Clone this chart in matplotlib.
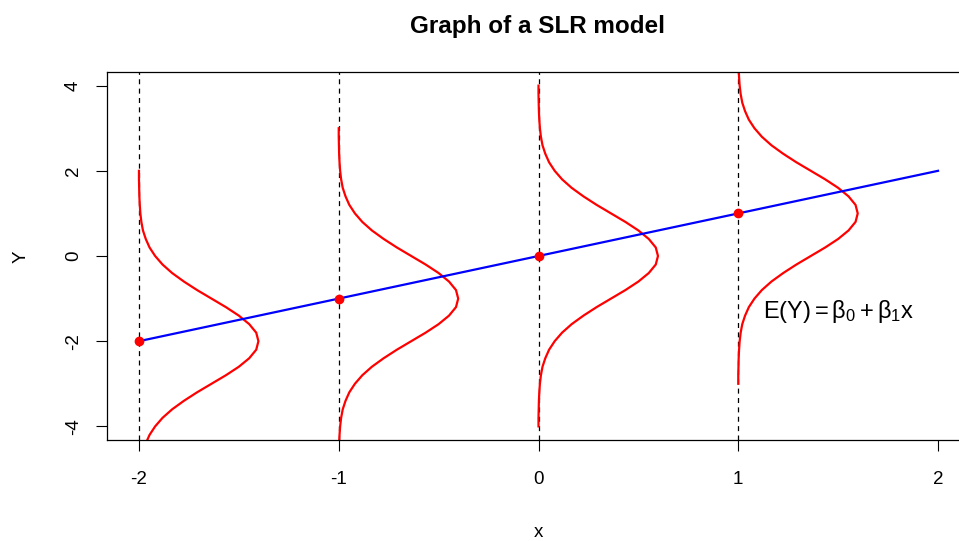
import numpy as np
import matplotlib.pyplot as plt

plt.rcParams['font.family'] = ['Liberation Sans', 'DejaVu Sans']
plt.rcParams['mathtext.fontset'] = 'custom'
plt.rcParams['mathtext.rm'] = 'Liberation Sans'
plt.rcParams['mathtext.it'] = 'Liberation Sans'
plt.rcParams['axes.unicode_minus'] = False

# x positions where the error distributions are drawn, and E(Y) there
x_means = [-2, -1, 0, 1]
y_means = [-2, -1, 0, 1]

# regression line end points
line_x = [-2, 2]
line_y = [-2, 2]

# horizontal width of the density curves
# (distance from the mean in y, 0 .. 4 in steps of 0.2)
half_d = [0.0, 0.2, 0.4, 0.6, 0.8, 1.0, 1.2, 1.4, 1.6, 1.8, 2.0,
          2.2, 2.4, 2.6, 2.8, 3.0, 3.2, 3.4, 3.6, 3.8, 4.0]
half_w = [0.598, 0.587, 0.552, 0.500, 0.435, 0.363, 0.291, 0.225, 0.166, 0.118, 0.081,
          0.053, 0.034, 0.020, 0.012, 0.007, 0.004, 0.002, 0.001, 0.000, 0.000]

d = np.concatenate([-np.array(half_d[::-1]), np.array(half_d[1:])])
w = np.concatenate([np.array(half_w[::-1]), np.array(half_w[1:])])

fig = plt.figure(figsize=(9.59, 5.41), dpi=100)
ax = fig.add_axes([107 / 959, 1 - 440 / 541, (970 - 107) / 959, (440 - 72) / 541])

for xm, ym in zip(x_means, y_means):
    ax.axvline(xm, color='black', lw=0.9, linestyle=(0, (4, 3.5)), zorder=1)
    ax.plot(xm + w, ym + d, color='red', lw=1.6, zorder=2)

ax.plot(line_x, line_y, color='blue', lw=1.6, zorder=3)
ax.plot(x_means, y_means, 'o', color='red', markersize=6, zorder=4)

ax.text(1.5, -1.3, r'$\mathrm{E(Y)} = \beta_0 + \beta_1\mathrm{x}$',
        fontsize=17, ha='center', va='center')

ax.set_xlim(-2.16, 2.16)
ax.set_ylim(-4.32, 4.32)
ax.set_xticks([-2, -1, 0, 1, 2])
ax.set_yticks([-4, -2, 0, 2, 4])
ax.tick_params(length=8, width=0.8, labelsize=13.5)
ax.tick_params(axis='x', pad=14)
ax.tick_params(axis='y', pad=10)
for lab in ax.get_yticklabels():
    lab.set_rotation(90)
    lab.set_va('center')

for s in ax.spines.values():
    s.set_linewidth(0.9)

fig.text(538 / 959, 1 - 537 / 541, 'x', fontsize=13.5, ha='center', va='baseline')
fig.text(21 / 959, 1 - 257 / 541, 'Y', fontsize=13.5, rotation=90,
         ha='center', va='center')
fig.text(538 / 959, 1 - 26 / 541, 'Graph of a SLR model', fontsize=17.5,
         fontweight='bold', ha='center', va='center')

fig.savefig('out.png', dpi=100)
